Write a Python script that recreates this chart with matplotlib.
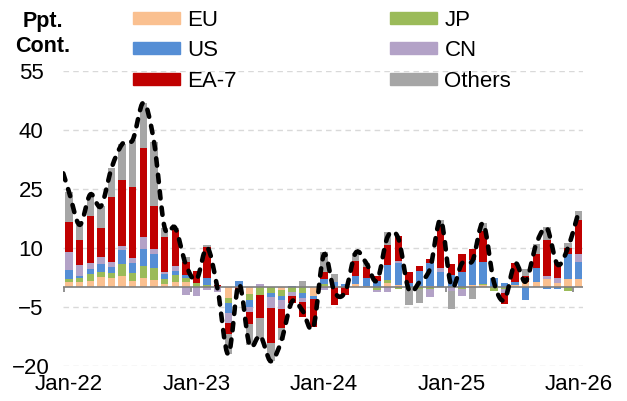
import matplotlib.pyplot as plt
import numpy as np
from matplotlib.path import Path
from matplotlib.patches import PathPatch, Patch

plt.rcParams['font.family'] = ['Liberation Sans', 'DejaVu Sans']

# monthly contributions, Jan-22 .. Jan-26 (ppt)
months = 49
eu = [1.3, 1.4, 1.7, 2.6, 2.3, 3.0, 1.7, 2.5, 1.8, 0.8, 1.4, 1.4,
      0.2, 0.0, 0.0, -2.6, 0.0, -1.8, 0.0, 0.0, -0.6, 0.0, 0.0, -2.1,
      0.3, 0.0, 0.0, 0.9, 0.4, 0.0, 1.0, 0.7, 0.0, 0.3, 0.3, 0.2,
      0.0, 0.2, 0.6, 0.5, 0.0, 0.0, 0.6, 1.3, 1.4, 2.0, 1.0, 2.0, 2.0]
jp = [0.9, 0.9, 1.7, 1.2, 1.3, 3.0, 2.0, 2.8, 3.2, 1.4, 1.7, 1.1,
      1.0, 0.6, 0.0, -1.5, 0.0, -1.3, -2.0, -1.5, -1.5, -1.3, -1.5, 0.0,
      0.5, 0.0, 0.0, 0.0, 0.0, -0.7, 0.85, -0.5, 0.0, -0.5, -0.5, 0.0,
      0.0, -0.3, 0.0, 0.45, -0.9, -0.3, 0.0, 0.0, 0.0, 0.0, 0.0, -1.0, 0.0]
us = [2.1, 0.7, 1.2, 2.2, 1.5, 3.6, 2.4, 4.4, 3.5, 1.1, 1.1, 0.6,
      0.0, 1.7, 0.0, -2.3, 1.6, -2.0, 0.0, -0.9, -1.0, 0.4, -1.2, -0.9,
      1.2, 1.4, 0.8, 1.9, 2.1, 1.5, 3.8, 5.5, 1.0, 3.8, 5.8, 3.6,
      3.1, 3.7, 6.4, 5.4, 2.3, 1.0, 0.8, -3.2, 3.6, -0.3, -0.3, 6.6, 4.5]
cn = [4.7, 2.7, 1.5, 1.6, 1.4, 0.9, 1.4, 3.2, 1.2, 0.6, 1.2, -2.0,
      -2.2, -0.7, -1.2, -2.7, 0.0, -1.2, 0.9, -2.8, -2.4, -0.9, -1.1, 0.0,
      -0.7, 0.0, 0.0, 0.0, 0.0, -0.5, -1.2, 0.4, 0.0, 0.0, -2.0, 1.2,
      -1.0, -2.0, 0.0, 0.0, 0.0, -1.2, 0.0, 0.0, 0.0, 1.0, 1.3, 0.0, 2.0]
ea7 = [7.5, 6.4, 12.1, 7.5, 16.4, 16.8, 18.1, 22.4, 11.1, 8.9, 9.2, 3.4,
       3.0, 8.0, 0.6, -2.8, -0.8, -3.0, -5.7, -8.9, -4.8, -1.8, -3.8, -7.2,
       1.8, -4.6, -2.0, 3.8, 2.6, 1.4, 5.1, 6.4, 3.0, 1.3, 1.2, 10.9,
       2.8, 4.5, 2.7, 7.9, 0.0, -2.7, 4.7, 1.7, 3.5, 9.1, 3.8, 1.3, 8.5]
others = [7.7, 3.8, 5.4, 5.5, 7.4, 9.1, 11.9, 11.6, 16.2, 2.4, 0.5, 1.3,
          0.0, 0.5, 0.0, -5.1, 0.0, -5.4, -5.5, -4.7, -3.2, 0.0, 1.6, 0.0,
          5.2, 2.0, 0.0, 2.2, 1.0, 0.0, 3.3, 0.0, -4.6, -3.6, 0.0, 1.2,
          -4.6, 0.0, -2.9, 2.0, 0.0, 0.0, 0.0, 1.7, 2.5, 3.2, 0.0, 1.3, 2.3]
total_dec21 = 33.0  # line starts one month before the first bar

series = [('EU', eu, '#FAC090'), ('JP', jp, '#9BBB59'), ('US', us, '#558ED5'),
          ('CN', cn, '#B3A2C7'), ('EA-7', ea7, '#C00000'), ('Others', others, '#A6A6A6')]
tick_pos = [0, 12, 24, 36, 48]
tick_lab = ['Jan-22', 'Jan-23', 'Jan-24', 'Jan-25', 'Jan-26']

fig = plt.figure(figsize=(6.27, 4.01), dpi=100)
ax = fig.add_axes([63 / 627, 35 / 401, 520 / 627, 295 / 401])

x = np.arange(months)
pos = np.zeros(months)
neg = np.zeros(months)
for name, vals, col in series:
    v = np.array(vals)
    bottom = np.where(v >= 0, pos, neg)
    ax.bar(x, v, 0.7, bottom=bottom, color=col, linewidth=0, zorder=2)
    pos += np.where(v >= 0, v, 0)
    neg += np.where(v < 0, v, 0)

# smoothed dashed total line (bezier through the monthly totals)
tot = np.concatenate([[total_dec21], pos + neg])
lx = np.arange(-1, months)
pts = np.column_stack([lx, tot])
verts = [pts[0]]
codes = [Path.MOVETO]
for i in range(len(pts) - 1):
    p0 = pts[max(i - 1, 0)]
    p1 = pts[i]
    p2 = pts[i + 1]
    p3 = pts[min(i + 2, len(pts) - 1)]
    verts += [p1 + (p2 - p0) / 6, p2 - (p3 - p1) / 6, p2]
    codes += [Path.CURVE4] * 3
ax.add_patch(PathPatch(Path(verts, codes), fill=False, edgecolor='black', lw=3.3,
                       linestyle=(0, (1.6, 2.0)), capstyle='round', zorder=4))

ax.axhline(0, color='#7F7F7F', lw=1.2, zorder=3)
ax.vlines([-0.5, 11.5, 23.5, 35.5, 47.5], -1.1, 0, color='#7F7F7F', lw=1.2, zorder=3)

ax.set_xlim(-0.57, 48.4)
ax.set_ylim(-20, 55)
ax.set_yticks([-20, -5, 10, 25, 40, 55])
ax.yaxis.grid(True, color='#D9D9D9', linestyle=(0, (4, 3)), lw=1)
ax.set_axisbelow(True)
ax.set_xticks(tick_pos)
ax.set_xticklabels(tick_lab)
ax.tick_params(axis='both', length=0, labelsize=16)
ax.tick_params(axis='x', pad=6)
ax.tick_params(axis='y', pad=23)
for lab in ax.get_yticklabels():
    lab.set_horizontalalignment('center')
for s in ax.spines.values():
    s.set_visible(False)

fig.text(43 / 627, 1 - 21 / 401, 'Ppt.', fontsize=15.5, fontweight='bold', ha='center', va='center')
fig.text(43 / 627, 1 - 47 / 401, 'Cont.', fontsize=15.5, fontweight='bold', ha='center', va='center')

cols = {n: c for n, _, c in series}
for names, xpos in [(['EU', 'US', 'EA-7'], 133), (['JP', 'CN', 'Others'], 390)]:
    fig.legend([Patch(color=cols[n]) for n in names], names, loc='upper left',
               bbox_to_anchor=(xpos / 627, 1 - 10 / 401), frameon=False, fontsize=16,
               borderpad=0, borderaxespad=0, handlelength=2.1, handleheight=0.45,
               handletextpad=0.35, labelspacing=0.42)

fig.savefig('out.png', dpi=100)
